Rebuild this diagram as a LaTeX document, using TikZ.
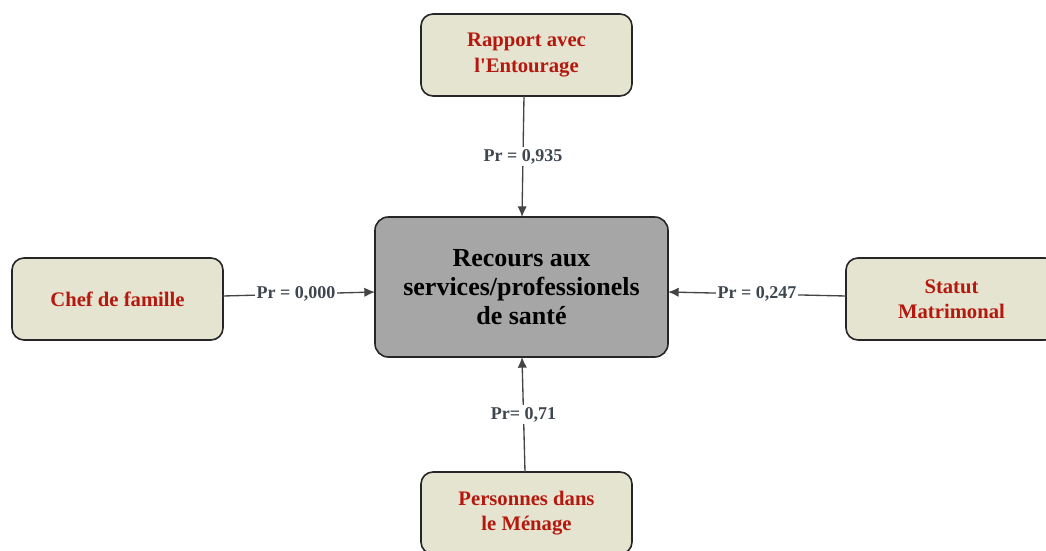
\documentclass[tikz,border=0pt]{standalone}
\usepackage{fontspec}
\setmainfont{Liberation Serif}
\usetikzlibrary{arrows.meta}
\definecolor{boxfill}{HTML}{E4E4D0}
\definecolor{boxtext}{HTML}{B5180E}
\definecolor{centerfill}{HTML}{A6A6A6}
\definecolor{linegray}{HTML}{444444}
\definecolor{labgray}{HTML}{3E4650}
\begin{document}
\begin{tikzpicture}[x=0.75pt,y=-0.75pt,
  varbox/.style={draw=black!85,line width=1.2pt,fill=boxfill,rounded corners=9pt,
    minimum width=211*0.75pt,minimum height=82*0.75pt,align=center,
    text=boxtext,font=\bfseries\fontsize{15.5}{19}\selectfont,inner sep=2pt},
  mainbox/.style={draw=black!85,line width=1.2pt,fill=centerfill,rounded corners=10pt,
    minimum width=293*0.75pt,minimum height=140*0.75pt,align=center,
    font=\bfseries\fontsize{19.5}{22}\selectfont,inner sep=2pt},
  conn/.style={draw=linegray,line width=1pt,-{Latex[length=8pt,width=7pt]}},
  plabel/.style={fill=white,text=labgray,font=\bfseries\fontsize{13.5}{15}\selectfont,inner sep=1.5pt}]
\useasboundingbox (0,0) rectangle (1046,550);
\node[mainbox] (c) at (521.5,287) {Recours aux\\services/professionels\\de santé};
\node[varbox] (t) at (526.5,55) {Rapport avec\\l\textquotesingle Entourage};
\node[varbox] (l) at (117.5,299) {Chef de famille};
\node[varbox] (r) at (951.5,299) {Statut\\Matrimonal};
\node[varbox] (b) at (526.5,513) {Personnes dans\\le Ménage};
\coordinate (tS) at (524,96);
\coordinate (tE) at (522,217);
\coordinate (lS) at (223,296);
\coordinate (lE) at (375,292);
\coordinate (rS) at (846,296);
\coordinate (rE) at (668,292);
\coordinate (bS) at (525,472);
\coordinate (bE) at (522,357);
\draw[conn] (tS) -- node[plabel,pos=0.5] {Pr = 0,935} (tE);
\draw[conn] (lS) -- node[plabel,pos=0.48] {Pr = 0,000} (lE);
\draw[conn] (rS) -- node[plabel,pos=0.5] {Pr = 0,247} (rE);
\draw[conn] (bS) -- node[plabel,pos=0.5] {Pr= 0,71} (bE);
\end{tikzpicture}
\end{document}
